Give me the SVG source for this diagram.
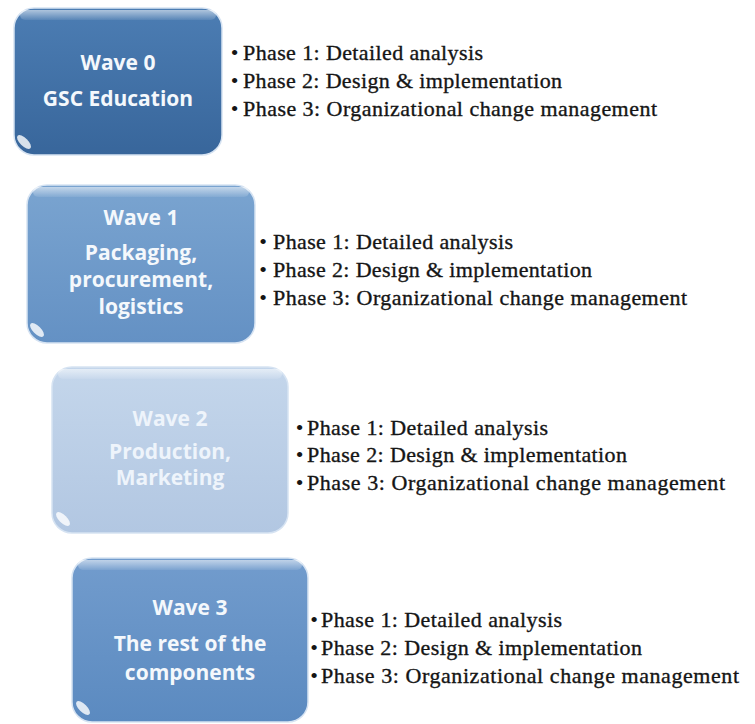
<svg xmlns="http://www.w3.org/2000/svg" width="755" height="724" viewBox="0 0 755 724">
<defs>
<linearGradient id="g0" x1="0" y1="0" x2="0" y2="1"><stop offset="0" stop-color="#4c7db3"/><stop offset="1" stop-color="#38669b"/></linearGradient>
<linearGradient id="g1" x1="0" y1="0" x2="0" y2="1"><stop offset="0" stop-color="#7aa4d0"/><stop offset="1" stop-color="#6491c4"/></linearGradient>
<linearGradient id="g2" x1="0" y1="0" x2="0" y2="1"><stop offset="0" stop-color="#c4d6eb"/><stop offset="1" stop-color="#b2c7e2"/></linearGradient>
<linearGradient id="g3" x1="0" y1="0" x2="0" y2="1"><stop offset="0" stop-color="#729ccd"/><stop offset="1" stop-color="#5b8ac0"/></linearGradient>
<linearGradient id="gloss" x1="0" y1="0" x2="0" y2="1"><stop offset="0" stop-color="#ffffff" stop-opacity="0.55"/><stop offset="1" stop-color="#ffffff" stop-opacity="0.08"/></linearGradient>
<style>
.box{stroke:#d6e3f2;stroke-width:1.5}
.gl{fill:url(#gloss)}
.hl{fill:#ffffff;fill-opacity:0.8}
.lbl{font-family:"Open Sans","Liberation Sans",sans-serif;font-weight:700;font-size:21px;fill:#f4f8fc;text-anchor:middle}
.lbl2{fill:#eef4fb}
.bt{font-family:"Liberation Serif","Times New Roman",serif;font-size:22px;fill:#151515;stroke:#151515;stroke-width:0.35}
.bu{font-family:"Liberation Serif","Times New Roman",serif;font-size:22px;fill:#151515;text-anchor:middle}
</style>
</defs>
<rect width="755" height="724" fill="#ffffff"/>
<g id="connectors"/>

<g id="wave0">
<rect class="box" x="14" y="8" width="208" height="147" rx="20" fill="url(#g0)"/>
<rect class="gl" x="20" y="10" width="196" height="10" rx="5"/>
<ellipse class="hl" cx="24" cy="142" rx="9" ry="4" transform="rotate(45 24 142)"/>
<text class="lbl" x="118" y="70">Wave 0</text>
<text class="lbl" x="118" y="106">GSC Education</text>
<text class="bu" x="234.5" y="60">•</text>
<text class="bu" x="234.5" y="88">•</text>
<text class="bu" x="234.5" y="116">•</text>
<text class="bt" x="243" y="60" textLength="240">Phase 1: Detailed analysis</text>
<text class="bt" x="243" y="88" textLength="319">Phase 2: Design &amp; implementation</text>
<text class="bt" x="243" y="116" textLength="414">Phase 3: Organizational change management</text>
</g>

<g id="wave1">
<rect class="box" x="27" y="185" width="228" height="158" rx="20" fill="url(#g1)"/>
<rect class="gl" x="33" y="187" width="216" height="10" rx="5"/>
<ellipse class="hl" cx="37" cy="330" rx="9" ry="4" transform="rotate(45 37 330)"/>
<text class="lbl" x="141" y="225">Wave 1</text>
<text class="lbl" x="141" y="260">Packaging,</text>
<text class="lbl" x="141" y="287">procurement,</text>
<text class="lbl" x="141" y="314">logistics</text>
<text class="bu" x="263" y="249">•</text>
<text class="bu" x="263" y="277">•</text>
<text class="bu" x="263" y="305">•</text>
<text class="bt" x="273" y="249" textLength="240">Phase 1: Detailed analysis</text>
<text class="bt" x="273" y="277" textLength="319">Phase 2: Design &amp; implementation</text>
<text class="bt" x="273" y="305" textLength="414">Phase 3: Organizational change management</text>
</g>

<g id="wave2">
<rect class="box" x="52" y="367" width="236" height="166" rx="20" fill="url(#g2)"/>
<rect class="gl" x="58" y="369" width="224" height="10" rx="5"/>
<ellipse class="hl" cx="63" cy="519" rx="9" ry="4" transform="rotate(45 63 519)"/>
<text class="lbl lbl2" x="170" y="426">Wave 2</text>
<text class="lbl lbl2" x="170" y="459">Production,</text>
<text class="lbl lbl2" x="170" y="485">Marketing</text>
<text class="bu" x="299.5" y="435">•</text>
<text class="bu" x="299.5" y="462">•</text>
<text class="bu" x="299.5" y="490">•</text>
<text class="bt" x="307" y="435" textLength="241">Phase 1: Detailed analysis</text>
<text class="bt" x="307" y="462" textLength="320">Phase 2: Design &amp; implementation</text>
<text class="bt" x="307" y="490" textLength="418">Phase 3: Organizational change management</text>
</g>

<g id="wave3">
<rect class="box" x="72" y="558" width="236" height="164" rx="20" fill="url(#g3)"/>
<rect class="gl" x="78" y="560" width="224" height="10" rx="5"/>
<ellipse class="hl" cx="83" cy="708" rx="9" ry="4" transform="rotate(45 83 708)"/>
<text class="lbl" x="190" y="615">Wave 3</text>
<text class="lbl" x="190" y="651">The rest of the</text>
<text class="lbl" x="190" y="680">components</text>
<text class="bu" x="314" y="627">•</text>
<text class="bu" x="314" y="655">•</text>
<text class="bu" x="314" y="683">•</text>
<text class="bt" x="321" y="627" textLength="241">Phase 1: Detailed analysis</text>
<text class="bt" x="321" y="655" textLength="321">Phase 2: Design &amp; implementation</text>
<text class="bt" x="321" y="683" textLength="418">Phase 3: Organizational change management</text>
</g>
</svg>
